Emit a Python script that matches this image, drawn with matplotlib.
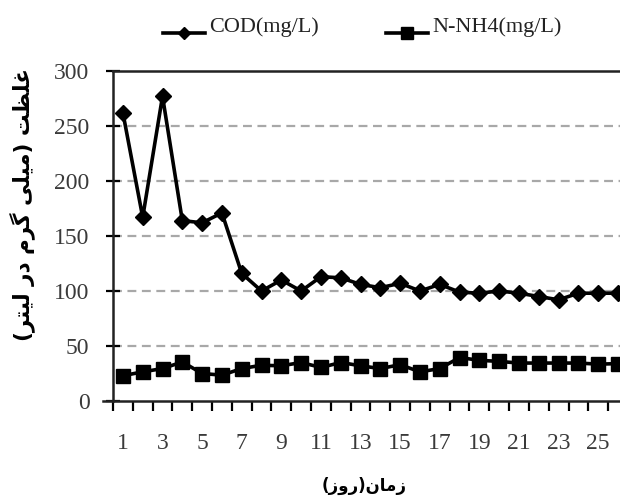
import matplotlib
matplotlib.use("Agg")
import matplotlib.pyplot as plt
from matplotlib.lines import Line2D

days = list(range(1, 27))
cod = [262, 167, 277, 164, 162, 171, 116, 100, 110, 100, 113, 112, 106, 103, 107, 100,
       106, 99, 98, 100, 98, 95, 92, 98, 98, 98]
nh4 = [23, 26.5, 29.5, 35.5, 25, 23.5, 29.5, 32.5, 32, 35, 30.5, 35, 32, 29.5, 33, 26.5,
       29.5, 39.5, 37, 36, 34.5, 34.5, 34.5, 34.5, 33.5, 34]
yticks = [0, 50, 100, 150, 200, 250, 300]
xtick_labels = list(range(1, 26, 2))
legend_labels = ["COD(mg/L)", "N-NH4(mg/L)"]

# Persian labels, shaped with Arabic presentation forms (matplotlib has no shaping / RTL)
ylab_logical = "\uFECF\uFEE0\uFEC8\uFE96 (\uFEE3\uFEF4\uFEE0\uFEF0 \uFB94\uFEAE\uFEE1 \uFEA9\uFEAD \uFEDF\uFEF4\uFE98\uFEAE)"
xlab_logical = "\uFEAF\uFEE3\uFE8E\uFEE5(\uFEAD\uFEED\uFEAF)"

def visual(s):
    r = s[::-1]
    return r.replace("(", "\0").replace(")", "(").replace("\0", ")")

serif = ["Liberation Serif", "DejaVu Serif"]

fig = plt.figure(figsize=(6.2, 4.97), dpi=100)
ax = fig.add_axes([113/620, (497-401)/497, 1 - 113/620, (401-71)/497])

ax.plot(days, cod, color="black", lw=2.6, marker="D", ms=8.5, mfc="black", mec="black", zorder=3)
ax.plot(days, nh4, color="black", lw=2.6, marker="s", ms=9.5, mfc="black", mec="black", zorder=3)

ax.set_ylim(0, 300)
ax.set_xlim(0.5, 26.1)

for v in yticks[1:-1]:
    ax.axhline(v, color="#a8a8a8", lw=1.6, ls=(0, (4, 2.5)), zorder=1)

ax.spines["right"].set_visible(False)
for s in ["top", "left", "bottom"]:
    ax.spines[s].set_linewidth(1.8)
    ax.spines[s].set_color("#222222")
ax.spines["bottom"].set_bounds(0.0, 26.1)

ax.set_yticks(yticks)
ax.set_yticklabels([str(v) for v in yticks], fontfamily=serif, fontsize=17, color="#3a3a3a")
ax.tick_params(axis="y", direction="inout", length=10, width=1.6, pad=12)

ax.set_xticks(xtick_labels)
ax.set_xticklabels([str(v) for v in xtick_labels], fontfamily=serif, fontsize=17, color="#3a3a3a")
ax.set_xticks([d - 0.5 for d in days], minor=True)
ax.tick_params(axis="x", which="major", length=0, pad=23)
ax.tick_params(axis="x", which="minor", direction="out", length=7, width=1.6)

fig.text(22/620, 1 - 205/497, visual(ylab_logical), rotation=90, ha="center", va="center",
         fontsize=15.5, fontweight="bold", family=["DejaVu Sans"])
fig.text(364/620, 1 - 486/497, visual(xlab_logical), ha="center", va="center",
         fontsize=12, fontweight="bold", family=["DejaVu Sans"])

# legend above plot
fig.add_artist(Line2D([163/620, 205/620], [1-33/497, 1-33/497], color="black", lw=2.6))
fig.add_artist(Line2D([184/620], [1-33/497], color="black", marker="D", ms=6, lw=0))
fig.text(209/620, 1-27/497, legend_labels[0], fontfamily=serif, fontsize=16, va="center", ha="left", color="#222222")
fig.add_artist(Line2D([386/620, 428/620], [1-33/497, 1-33/497], color="black", lw=2.6))
fig.add_artist(Line2D([407/620], [1-33/497], color="black", marker="s", ms=8, lw=0))
fig.text(432/620, 1-27/497, legend_labels[1], fontfamily=serif, fontsize=16, va="center", ha="left", color="#222222")

fig.savefig("out.png", dpi=100)
